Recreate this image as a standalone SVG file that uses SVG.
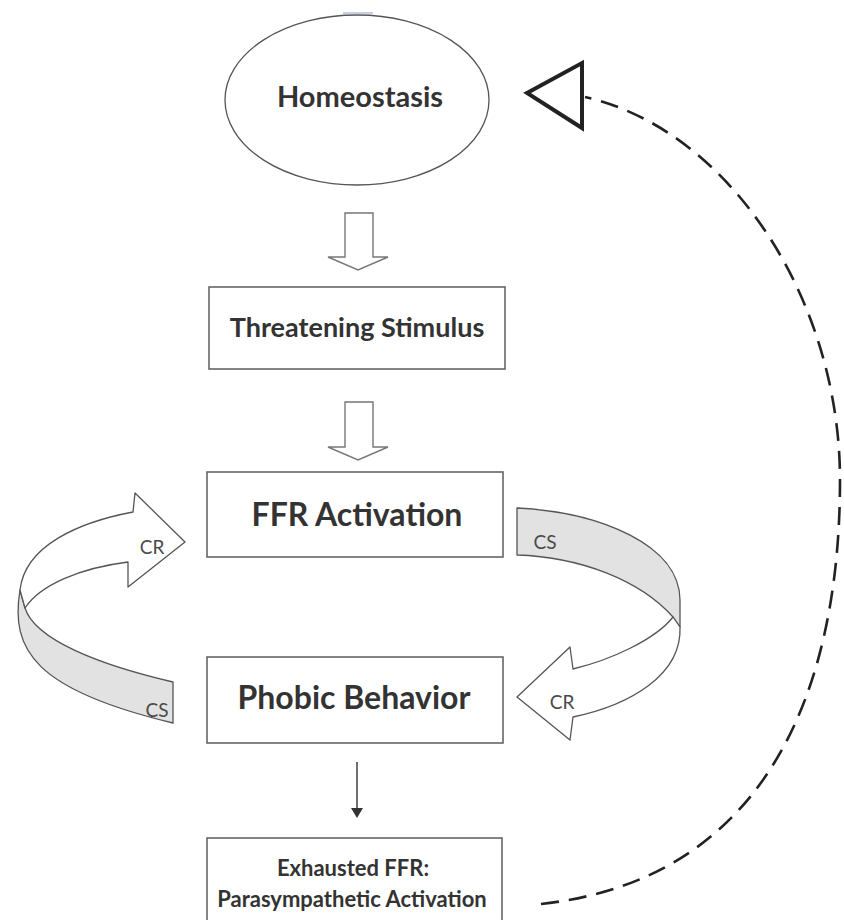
<svg xmlns="http://www.w3.org/2000/svg" width="844" height="920" viewBox="0 0 844 920">
<style>
.box{fill:#fff;stroke:#666;stroke-width:1.6}
.lbl{font-family:Lato,"Open Sans",sans-serif;font-weight:bold;fill:#333;text-anchor:middle}
.small{font-family:Lato,"Open Sans",sans-serif;font-weight:normal;fill:#4a4a4a;text-anchor:middle;font-size:19px}
.hollow{fill:#fff;stroke:#777;stroke-width:1.4;stroke-linejoin:miter}
.ribbon{stroke:#555;stroke-width:1.3;stroke-linejoin:round}
.front{fill:#fff}
.back{fill:#e2e2e2}
</style>
<rect width="844" height="920" fill="#fff"/>
<rect x="343" y="12" width="30" height="2" fill="#c5d2e6"/>

<g id="homeostasis">
<ellipse cx="357" cy="100" rx="132" ry="85" fill="#fff" stroke="#555" stroke-width="1.3"/>
<text class="lbl" x="360" y="107" font-size="29">Homeostasis</text>
</g>

<g id="threatening-stimulus">
<rect class="box" x="209" y="287" width="296" height="82"/>
<text class="lbl" x="357" y="337" font-size="27">Threatening Stimulus</text>
</g>

<g id="ffr-activation">
<rect class="box" x="207" y="472" width="296" height="85"/>
<text class="lbl" x="357" y="526" font-size="32">FFR Activation</text>
</g>

<g id="phobic-behavior">
<rect class="box" x="207" y="657" width="296" height="86"/>
<text class="lbl" x="354" y="709" font-size="32">Phobic Behavior</text>
</g>

<g id="exhausted-ffr">
<rect class="box" x="207" y="838" width="295" height="100"/>
<text class="lbl" x="353" y="876" font-size="22">Exhausted FFR:</text>
<text class="lbl" x="352" y="907" font-size="22">Parasympathetic Activation</text>
</g>

<g id="connectors">
<polygon class="hollow" points="345,213 373,213 373,257 388,257 358,270 328,257 345,257"/>
<polygon class="hollow" points="345,402 373,402 373,447 388,447 358,460 328,447 345,447"/>
<line x1="357" y1="762" x2="357" y2="809" stroke="#333" stroke-width="1.4"/>
<polygon points="351,808 363,808 357,818" fill="#333"/>

<g id="left-loop">
<path class="ribbon back" d="M20,590 C10,650 35,690 173,723 L173,682 C100,665 35,640 25,608 Z"/>
<path class="ribbon front" d="M133,512 L135,493 L185,542 L128,587 L128,562 C80,568 40,585 25,608 L20,590 C25,545 80,522 133,512 Z"/>
<text class="small" x="152" y="554">CR</text>
<text class="small" x="157" y="717">CS</text>
</g>

<g id="right-loop">
<path class="ribbon back" d="M517,508 C600,512 680,545 680,600 L680,627 L673,617 C640,580 580,557 517,555 Z"/>
<path class="ribbon front" d="M673,617 C655,640 610,660 573,669 L570,647 L517,697 L570,740 L573,717 C630,705 682,675 680,627 Z"/>
<text class="small" x="545" y="549">CS</text>
<text class="small" x="562" y="709">CR</text>
</g>

<path d="M541,904 C760,880 840,700 840,480 C840,300 730,130 585,97" fill="none" stroke="#222" stroke-width="2.6" stroke-dasharray="18 10"/>
<polygon points="527,93 582,63 582,128" fill="#fff" stroke="#222" stroke-width="4" stroke-linejoin="miter"/>
</g>
</svg>
